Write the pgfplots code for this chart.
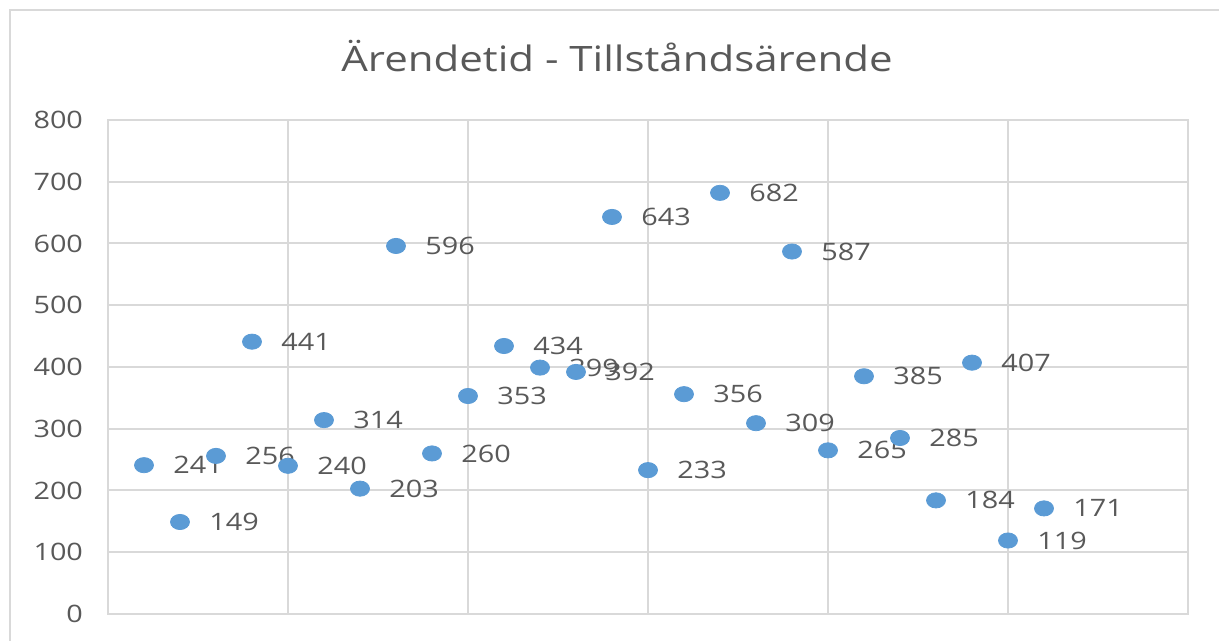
\documentclass[border=0pt]{standalone}
\usepackage{fontspec}
\setmainfont[FakeStretch=1.2]{Open Sans}
\usepackage{pgfplots}
\pgfplotsset{compat=1.18}
\definecolor{txt}{HTML}{595959}
\definecolor{gridc}{HTML}{D9D9D9}
\definecolor{dot}{HTML}{5B9BD5}

\begin{document}
\begin{tikzpicture}
  \useasboundingbox (-54pt,-13.5pt) rectangle (555.5pt,307pt);
  \draw[gridc, line width=1.2pt] (-49pt,-30pt) rectangle (580pt,302pt);
  \begin{axis}[
      at={(0,0)}, anchor=origin,
      scale only axis,
      width=540pt, height=247pt,
      xmin=0, xmax=30, ymin=0, ymax=800,
      xtick={0,5,...,30}, xticklabels={},
      ytick={0,100,...,800},
      major tick length=0pt,
      grid=major,
      major grid style={gridc, line width=1pt},
      axis line style={gridc, line width=1pt},
      tick label style={font=\fontsize{12}{14}\selectfont, text=txt},
      yticklabel style={xshift=-9pt},
      /pgf/number format/assume math mode=true,
      title={Ärendetid - Tillståndsärende},
      title style={font=\fontsize{17.5}{21}\selectfont, text=txt,
                   at={(254.5pt,273pt)}, anchor=center},
      nodes near coords,
      every node near coord/.append style={anchor=west, inner sep=0pt,
          xshift=14.5pt, font=\fontsize{12}{14}\selectfont, text=txt},
    ]
    \addplot[only marks, mark=*, mark size=3.8pt,
             mark options={fill=dot, draw=dot, xscale=1.25}]
      coordinates {
        (1,241) (2,149) (3,256) (4,441) (5,240) (6,314) (7,203)
        (8,596) (9,260) (10,353) (11,434) (12,399) (13,392) (14,643)
        (15,233) (16,356) (17,682) (18,309) (19,587) (20,265) (21,385)
        (22,285) (23,184) (24,407) (25,119) (26,171)
      };
  \end{axis}
\end{tikzpicture}
\end{document}
